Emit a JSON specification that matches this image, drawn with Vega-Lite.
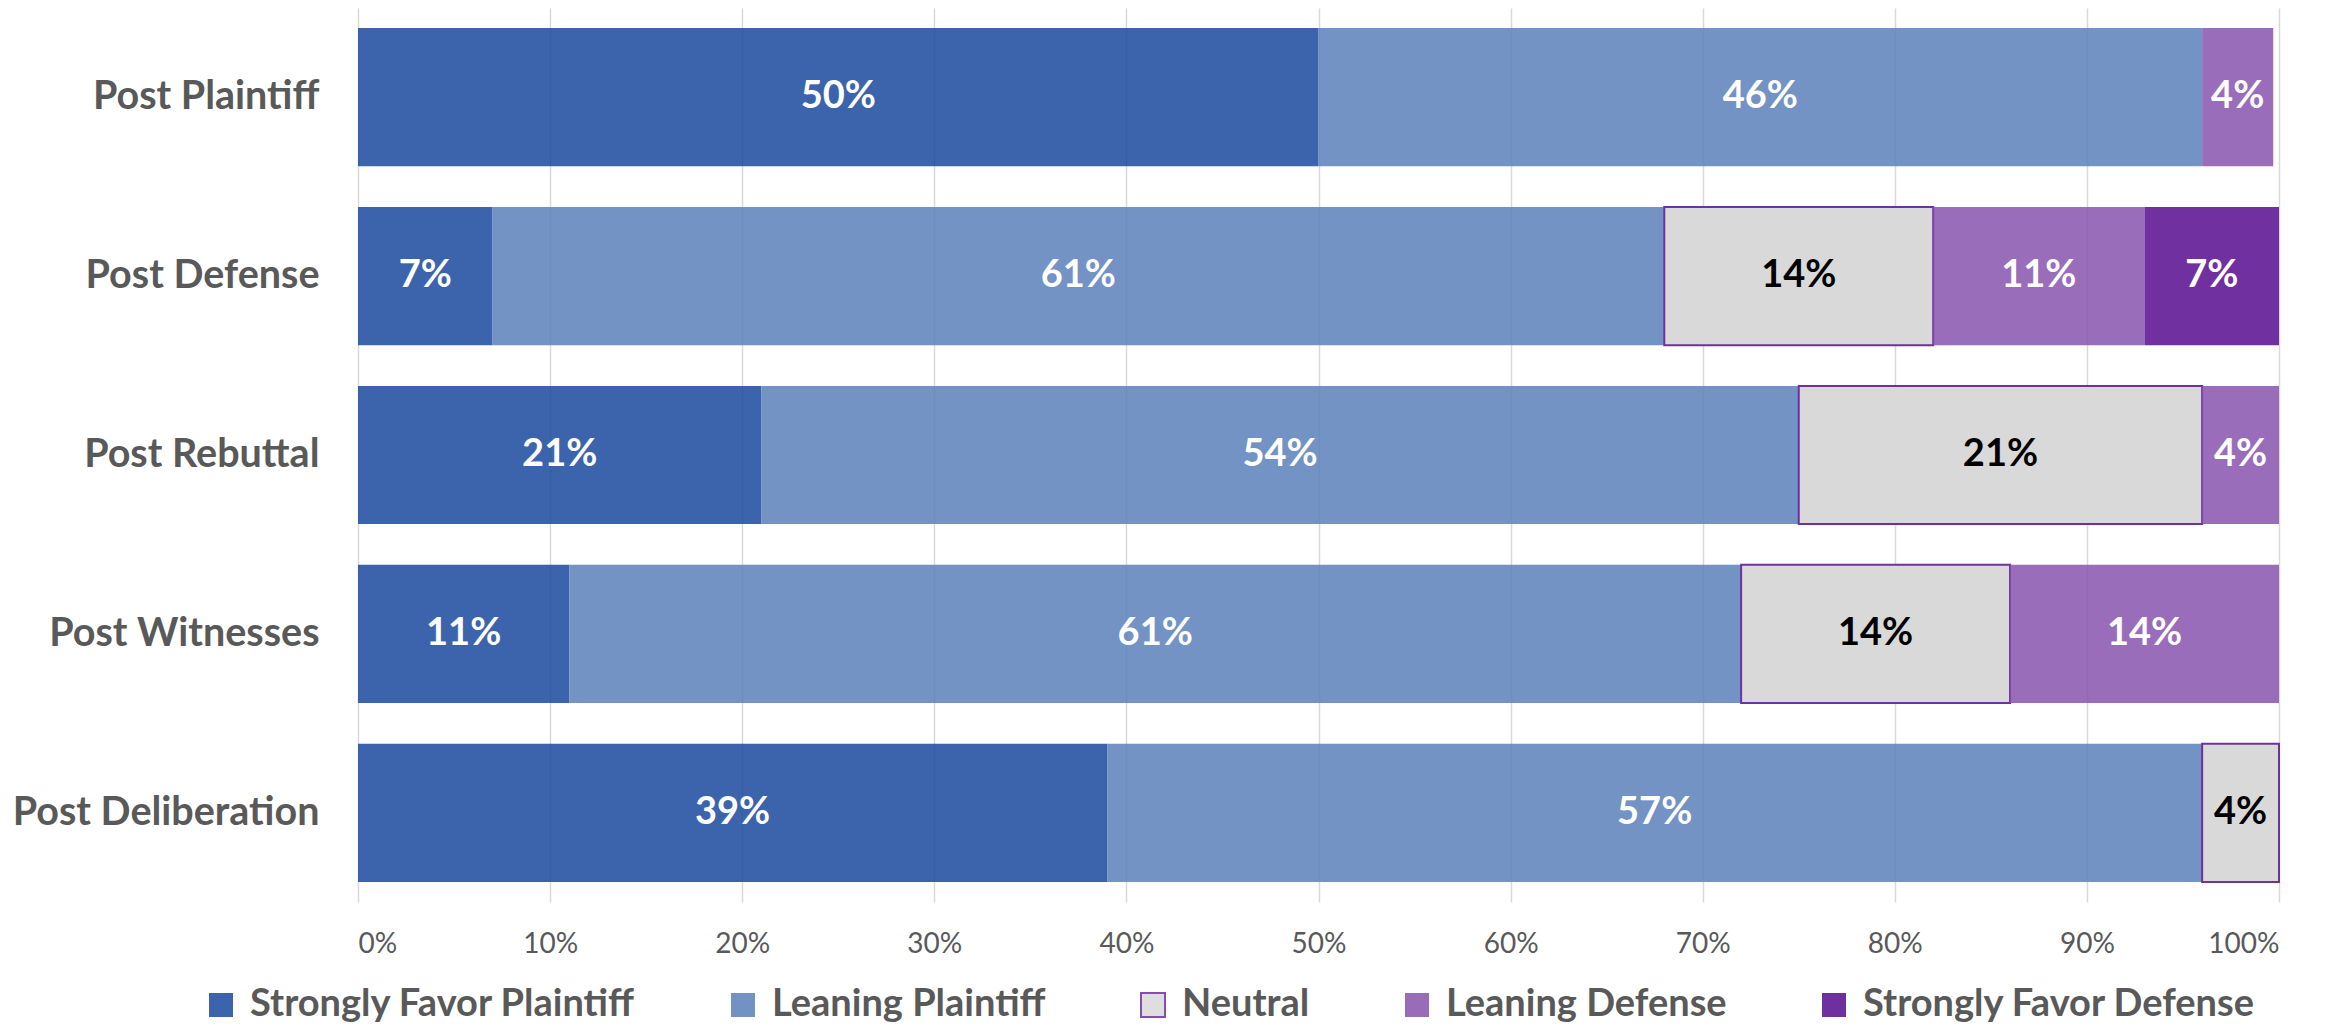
{
  "$schema": "https://vega.github.io/schema/vega-lite/v6.json",
  "width": 1921,
  "height": 894,
  "autosize": {"type": "none"},
  "padding": {"left": 358, "top": 8, "right": 69, "bottom": 126},
  "background": "white",
  "config": {"view": {"stroke": null}, "font": "Lato"},
  "data": {
    "values": [
      {"stage": "Post Plaintiff", "category": "Strongly Favor Plaintiff", "value": 0.50},
      {"stage": "Post Plaintiff", "category": "Leaning Plaintiff", "value": 0.46},
      {"stage": "Post Plaintiff", "category": "Leaning Defense", "value": 0.037},
      {"stage": "Post Defense", "category": "Strongly Favor Plaintiff", "value": 0.07},
      {"stage": "Post Defense", "category": "Leaning Plaintiff", "value": 0.61},
      {"stage": "Post Defense", "category": "Neutral", "value": 0.14},
      {"stage": "Post Defense", "category": "Leaning Defense", "value": 0.11},
      {"stage": "Post Defense", "category": "Strongly Favor Defense", "value": 0.07},
      {"stage": "Post Rebuttal", "category": "Strongly Favor Plaintiff", "value": 0.21},
      {"stage": "Post Rebuttal", "category": "Leaning Plaintiff", "value": 0.54},
      {"stage": "Post Rebuttal", "category": "Neutral", "value": 0.21},
      {"stage": "Post Rebuttal", "category": "Leaning Defense", "value": 0.04},
      {"stage": "Post Witnesses", "category": "Strongly Favor Plaintiff", "value": 0.11},
      {"stage": "Post Witnesses", "category": "Leaning Plaintiff", "value": 0.61},
      {"stage": "Post Witnesses", "category": "Neutral", "value": 0.14},
      {"stage": "Post Witnesses", "category": "Leaning Defense", "value": 0.14},
      {"stage": "Post Deliberation", "category": "Strongly Favor Plaintiff", "value": 0.39},
      {"stage": "Post Deliberation", "category": "Leaning Plaintiff", "value": 0.57},
      {"stage": "Post Deliberation", "category": "Neutral", "value": 0.04}
    ]
  },
  "transform": [
    {"stack": "value", "groupby": ["stage"], "as": ["v0", "v1"]},
    {"calculate": "(datum.v0 + datum.v1) / 2", "as": "vmid"}
  ],
  "encoding": {
    "y": {
      "field": "stage", "type": "nominal",
      "sort": ["Post Plaintiff", "Post Defense", "Post Rebuttal", "Post Witnesses", "Post Deliberation"],
      "scale": {"paddingInner": 0.228, "paddingOuter": 0.112},
      "axis": {"title": null, "domain": false, "ticks": false, "grid": false, "labelFont": "Lato", "labelFontWeight": "bold", "labelFontSize": 39.5, "labelColor": "#595959", "labelPadding": 39, "labelLimit": 0}
    }
  },
  "layer": [
    {
      "mark": {"type": "bar", "strokeWidth": 2},
      "encoding": {
        "x": {
          "field": "v0", "type": "quantitative",
          "scale": {"domain": [0, 1], "nice": false},
          "axis": {"title": null, "format": ".0%", "values": [0, 0.1, 0.2, 0.3, 0.4, 0.5, 0.6, 0.7, 0.8, 0.9, 1], "grid": true, "gridColor": "#d9d9d9", "gridWidth": 1.5, "domain": false, "ticks": false, "labelFont": "Lato", "labelFontSize": 28, "labelColor": "#595959", "labelPadding": 28}
        },
        "x2": {"field": "v1"},
        "color": {
          "field": "category", "type": "nominal",
          "scale": {
            "domain": ["Strongly Favor Plaintiff", "Leaning Plaintiff", "Neutral", "Leaning Defense", "Strongly Favor Defense"],
            "range": ["#1A499D", "#5A80BA", "#D9D9D9", "#8853AE", "#570C8F"]
          },
          "legend": {"orient": "none", "legendX": -156, "legendY": 978, "direction": "horizontal", "columns": 5, "title": null, "symbolType": "square", "symbolSize": 576, "symbolOpacity": 0.85, "symbolStrokeWidth": 2, "labelFont": "Lato", "labelFontSize": 38, "labelFontWeight": "bold", "labelColor": "#595959", "labelOffset": 10, "labelLimit": 0, "columnPadding": 88}
        },
        "stroke": {
          "field": "category", "type": "nominal",
          "scale": {
            "domain": ["Strongly Favor Plaintiff", "Leaning Plaintiff", "Neutral", "Leaning Defense", "Strongly Favor Defense"],
            "range": ["transparent", "transparent", "#7030A0", "transparent", "transparent"]
          }
        },
        "fillOpacity": {"condition": {"test": "datum.category === 'Neutral'", "value": 1}, "value": 0.85}
      }
    },
    {
      "mark": {"type": "text", "font": "Lato", "fontWeight": "bold", "fontSize": 38},
      "encoding": {
        "x": {"field": "vmid", "type": "quantitative"},
        "text": {"field": "value", "type": "quantitative", "format": ".0%"},
        "color": {"condition": {"test": "datum.category === 'Neutral'", "value": "black"}, "value": "white"}
      }
    }
  ]
}
